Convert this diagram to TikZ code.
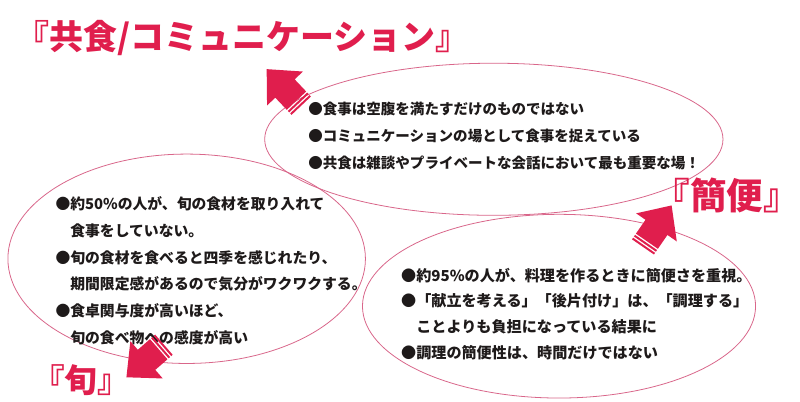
\documentclass[tikz,border=0pt]{standalone}
\usepackage{fontspec}
\newfontfamily\jpfont{Noto Sans CJK JP}
\usetikzlibrary{calc, shapes.geometric}
\definecolor{shunred}{HTML}{E01E4D}
\definecolor{ovalpink}{HTML}{D9668A}
\definecolor{inkdark}{HTML}{1E1A1A}
\tikzset{
  oval/.style={ellipse, draw=ovalpink, line width=0.8pt, inner sep=0pt, outer sep=0pt},
  headline/.style={text=shunred, inner sep=0pt},
  bullets/.style={text=inkdark, align=left, anchor=north west, inner sep=0pt,
                  font=\jpfont\bfseries\fontsize{14.7}{27}\selectfont},
  stripe/.style={shunred, line width=27pt},
}

\begin{document}
\begin{tikzpicture}[x=1pt, y=-1pt]
  \path[fill=white] (0,0) rectangle (800,407);

  % three ovals
  \node[oval, minimum width=464pt, minimum height=154pt] (comOval) at (500,141) {};
  \node[oval, minimum width=362pt, minimum height=212pt] (shunOval) at (189,262) {};
  \node[oval, minimum width=398pt, minimum height=186pt] (kanOval) at (566,310) {};

  % headings
  \node[headline, font=\jpfont\bfseries\fontsize{34.4}{40}\selectfont] (comHead) at (245.5,38) {『共食/コミュニケーション』};
  \node[headline, font=\jpfont\bfseries\fontsize{37}{42}\selectfont] (kanHead) at (736,198) {『簡便』};
  \node[headline, font=\jpfont\bfseries\fontsize{33}{40}\selectfont] (shunHead) at (82,385) {『旬』};

  % bullet texts
  \node[bullets] (comText) at (312,103.5) {●食事は空腹を満たすだけのものではない\\
    ●コミュニケーションの場として食事を捉えている\\
    ●共食は雑談やプライベートな会話において最も重要な場！};
  \node[bullets, font=\jpfont\bfseries\fontsize{15}{27}\selectfont] (shunText) at (56,199) {●約50\%の人が、旬の食材を取り入れて\\
    　食事をしていない。\\
    ●旬の食材を食べると四季を感じれたり、\\
    　期間限定感があるので気分がワクワクする。\\
    ●食卓関与度が高いほど、\\
    　旬の食べ物への感度が高い};
  \node[bullets, font=\jpfont\bfseries\fontsize{15.3}{26}\selectfont] (kanText) at (406,271) {●約95\%の人が、料理を作るときに簡便さを重視。\\
    ●「献立を考える」「後片付け」は、「調理する」\\
    　ことよりも負担になっている結果に\\
    ●調理の簡便性は、時間だけではない};

  % block arrows
  \coordinate (comTail) at (305,107);
  \coordinate (comTip) at (270,70);
  \coordinate (shunTail) at (166,349);
  \coordinate (shunTip) at (128,382);
  \coordinate (kanTail) at (651,250);
  \coordinate (kanTip) at (680,208);

  \foreach \which in {com,shun,kan}{
    \coordinate (hb) at ($(\which Tip)!27pt!(\which Tail)$);
    \coordinate (sb) at ($(\which Tail)!7pt!(\which Tip)$);
    \fill[shunred] (\which Tip) -- ($(hb)!25pt!90:(\which Tip)$) -- ($(hb)!13.5pt!90:(\which Tip)$)
      -- ($(sb)!13.5pt!90:(\which Tip)$) -- ($(sb)!13.5pt!-90:(\which Tip)$)
      -- ($(hb)!13.5pt!-90:(\which Tip)$) -- ($(hb)!25pt!-90:(\which Tip)$) -- cycle;
    \draw[stripe] (\which Tail) -- ($(\which Tail)!2pt!(\which Tip)$);
    \draw[stripe] ($(\which Tail)!3.5pt!(\which Tip)$) -- ($(\which Tail)!5.5pt!(\which Tip)$);
  }
\end{tikzpicture}
\end{document}
